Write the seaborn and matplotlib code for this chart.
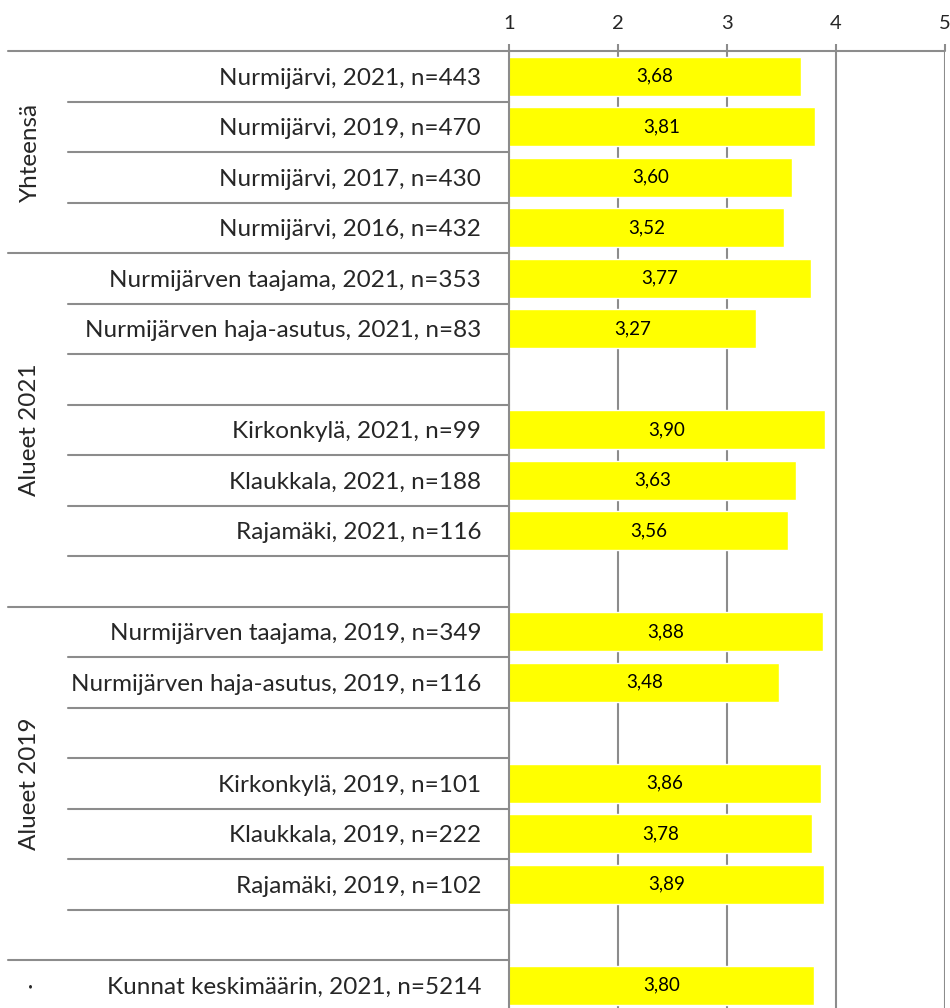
import pandas as pd
import matplotlib
matplotlib.use("Agg")
import matplotlib.pyplot as plt
import matplotlib.transforms as mtrans
import seaborn as sns

# Data (blank rows are spacer rows without data)
labels = [
    "Nurmijärvi, 2021, n=443",
    "Nurmijärvi, 2019, n=470",
    "Nurmijärvi, 2017, n=430",
    "Nurmijärvi, 2016, n=432",
    "Nurmijärven taajama, 2021, n=353",
    "Nurmijärven haja-asutus, 2021, n=83",
    "_blank1",
    "Kirkonkylä, 2021, n=99",
    "Klaukkala, 2021, n=188",
    "Rajamäki, 2021, n=116",
    "_blank2",
    "Nurmijärven taajama, 2019, n=349",
    "Nurmijärven haja-asutus, 2019, n=116",
    "_blank3",
    "Kirkonkylä, 2019, n=101",
    "Klaukkala, 2019, n=222",
    "Rajamäki, 2019, n=102",
    "_blank4",
    "Kunnat keskimäärin, 2021, n=5214",
]
values = [3.68, 3.81, 3.60, 3.52, 3.77, 3.27, None, 3.90, 3.63, 3.56, None,
          3.88, 3.48, None, 3.86, 3.78, 3.89, None, 3.80]
groups = ["Yhteensä", "Alueet 2021", "Alueet 2019", "·"]
group_sizes = [4, 7, 7, 1]
x_ticks = [1, 2, 3, 4, 5]

df = pd.DataFrame({"label": labels, "value": values}).dropna()

sns.set_style("white")
plt.rcParams["font.family"] = ["Lato", "DejaVu Sans"]

fig = plt.figure(figsize=(9.5, 10.08), dpi=100)
ax = fig.add_axes([509 / 950, 1 - 1010.5 / 1008, 436 / 950, 959.5 / 1008])

sns.barplot(data=df, x="value", y="label", order=labels, orient="h",
            color="#FFFF00", saturation=1, width=0.77, ax=ax, errorbar=None)

ax.set_xlim(1, 5)
ax.set_ylim(len(labels) - 0.5, -0.5)
ax.set_xlabel("")
ax.set_ylabel("")

# value labels centered in the visible bar
for i, (lab, v) in enumerate(zip(labels, values)):
    if v is None:
        continue
    ax.text((1 + v) / 2, i, f"{v:.2f}".replace(".", ","), ha="center",
            va="center", fontsize=13.5, color="black")

# top axis ticks
ax.xaxis.tick_top()
ax.set_xticks(x_ticks)
ax.set_xticklabels([str(t) for t in x_ticks], fontsize=14.5)
ax.tick_params(axis="x", length=5, width=1.5, color="#8c8c8c", pad=9)
ax.grid(axis="x", color="#8c8c8c", linewidth=1.5)
ax.set_axisbelow(True)

# y labels
ax.set_yticks(range(len(labels)))
ax.set_yticklabels(["" if l.startswith("_blank") else l for l in labels],
                   fontsize=17.5)
ax.tick_params(axis="y", length=0, pad=20)
ax.set_yticks([i + 0.5 for i in range(-1, len(labels))], minor=True)
ax.tick_params(axis="y", which="minor", length=5, width=1.5, color="#8c8c8c")

for s in ["top", "right", "bottom"]:
    ax.spines[s].set_visible(False)
ax.spines["left"].set_color("#8c8c8c")
ax.spines["left"].set_linewidth(1.5)

# separators in the label area
trans = mtrans.blended_transform_factory(fig.transFigure, ax.transData)
ax.plot([8 / 950, 945 / 950], [-0.5, -0.5], transform=trans, color="#8c8c8c",
        linewidth=1.5, clip_on=False)
start = 0
for g, n in zip(groups, group_sizes):
    for k in range(1, n):
        y = start + k - 0.5
        ax.plot([68 / 950, 509 / 950], [y, y], transform=trans,
                color="#8c8c8c", linewidth=1.5, clip_on=False)
    end = start + n
    if end < len(labels):
        ax.plot([8 / 950, 509 / 950], [end - 0.5, end - 0.5], transform=trans,
                color="#8c8c8c", linewidth=1.5, clip_on=False)
    ax.text(30 / 950, (start + end - 1) / 2, g, transform=trans, rotation=90,
            ha="center", va="center", fontsize=17.5)
    start = end

fig.savefig("out.png", dpi=100)
